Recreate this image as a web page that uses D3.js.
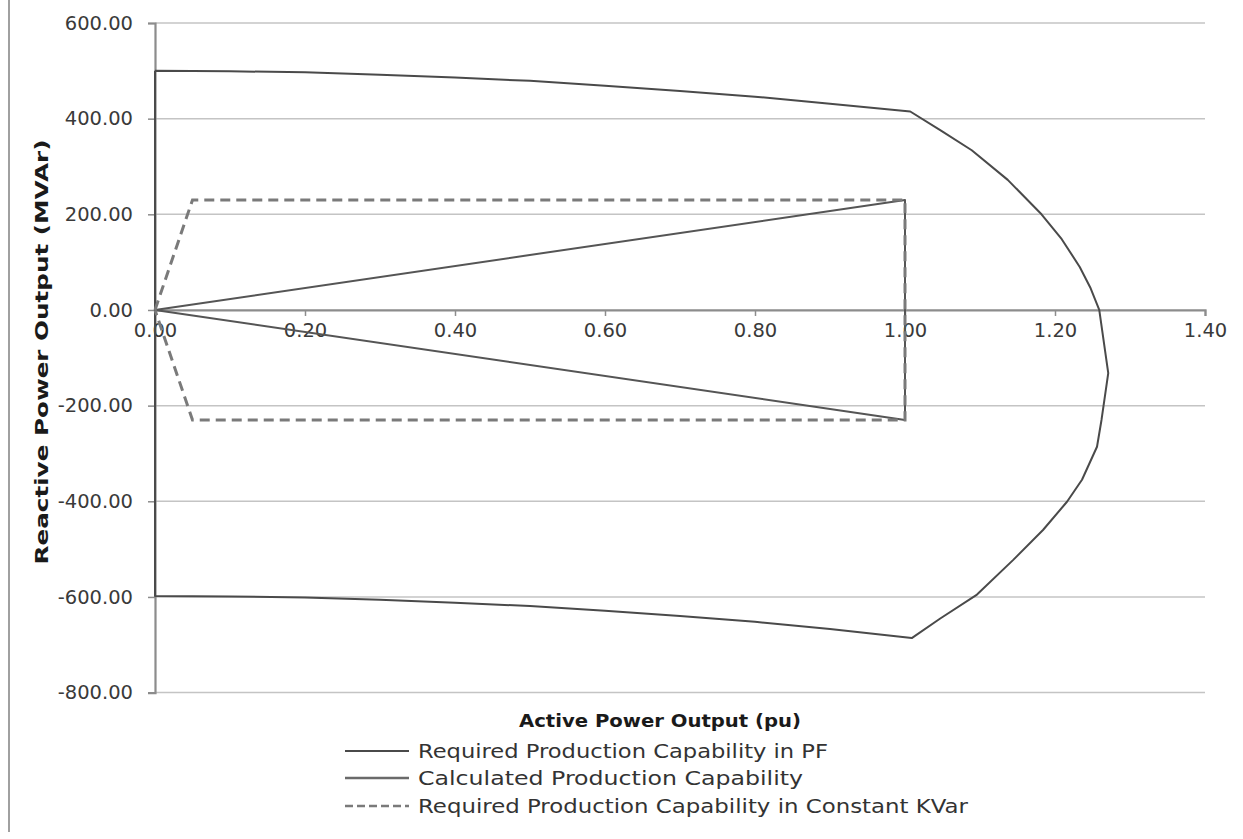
<!DOCTYPE html>
<html><head><meta charset="utf-8">
<script src="https://cdn.jsdelivr.net/npm/d3@7"></script>
<style>
html,body{margin:0;padding:0;background:#fff;}
svg{display:block;}
</style></head>
<body>
<svg id="chart" width="1243" height="839"></svg>
<script>
// ---- data ----
const xTicks = [0, 0.2, 0.4, 0.6, 0.8, 1.0, 1.2, 1.4];
const yTicks = [600, 400, 200, 0, -200, -400, -600, -800];

const seriesNames = [
  "Required Production Capability in PF",
  "Calculated Production Capability",
  "Required Production Capability in Constant KVar"
];

const pfP = [0, 1.0, 1.0, 0];
const pfQ = [0, 230, -230, 0];

const calcP = [0, 0.1, 0.2, 0.3, 0.4, 0.5, 0.6, 0.7, 0.8, 0.9, 1.007, 1.048, 1.089, 1.137, 1.182, 1.209, 1.233, 1.247, 1.259, 1.271, 1.262, 1.256, 1.236, 1.216, 1.184, 1.144, 1.096, 1.047, 1.009, 0.9, 0.8, 0.7, 0.6, 0.5, 0.4, 0.3, 0.2, 0.1, 0, 0];
const calcQ = [500, 499, 497, 492, 486, 479, 469, 458, 446, 431, 415, 375, 334, 272, 200, 148, 90, 47, 0, -132, -230, -286, -355, -401, -460, -523, -595, -645, -686, -667, -652, -640, -629, -619, -612, -606, -601, -599, -598, 500];

const kvarP = [0, 0.05, 1.0, 1.0, 0.05, 0];
const kvarQ = [0, 230, 230, -230, -230, 0];

// ---- layout ----
const svg = d3.select("#chart");
const x = d3.scaleLinear().domain([0, 1.4]).range([155, 1205]);
const y = d3.scaleLinear().domain([-800, 600]).range([692.6, 23]);
const fmt = d => d3.format(".2f")(d).replace("\u2212", "-");

// left border line
svg.append("line").attr("x1", 9).attr("x2", 9).attr("y1", 0).attr("y2", 832)
  .attr("stroke", "#a0a0a0").attr("stroke-width", 2);

// gridlines
svg.append("g").selectAll("line").data(yTicks.filter(d => d !== 0)).join("line")
  .attr("x1", x(0)).attr("x2", x(1.4))
  .attr("y1", d => y(d)).attr("y2", d => y(d))
  .attr("stroke", "#c4c4c4").attr("stroke-width", 1.5);

// y axis
const yAxis = d3.axisLeft(y).tickValues(yTicks).tickFormat(fmt).tickSize(7).tickPadding(15);
const gy = svg.append("g").attr("transform", `translate(${x(0)},0)`).call(yAxis);
gy.select(".domain").attr("stroke", "#8c8c8c").attr("stroke-width", 2.2);
gy.selectAll(".tick line").attr("stroke", "#8c8c8c").attr("stroke-width", 1.5);
gy.selectAll(".tick text").attr("font-family", "'DejaVu Sans', sans-serif").attr("font-size", 19.5).attr("fill", "#3a3a3a");

// x axis
const xAxis = d3.axisBottom(x).tickValues(xTicks).tickFormat(fmt).tickSize(6).tickPadding(7);
const gx = svg.append("g").attr("transform", `translate(0,${y(0)})`).call(xAxis);
gx.select(".domain").attr("stroke", "#8c8c8c").attr("stroke-width", 2.2);
gx.selectAll(".tick line").attr("stroke", "#8c8c8c").attr("stroke-width", 1.5);
gx.selectAll(".tick text").attr("font-family", "'DejaVu Sans', sans-serif").attr("font-size", 19.5).attr("fill", "#3a3a3a");

// series
const line = d3.line().x(d => x(d[0])).y(d => y(d[1]));
const zip = (a, b) => a.map((v, i) => [v, b[i]]);

svg.append("path").datum(zip(calcP, calcQ)).attr("d", line)
  .attr("fill", "none").attr("stroke", "#4a4a4a").attr("stroke-width", 2).attr("stroke-linejoin", "round");
svg.append("path").datum(zip(pfP, pfQ)).attr("d", line)
  .attr("fill", "none").attr("stroke", "#555555").attr("stroke-width", 2).attr("stroke-linejoin", "round");
svg.append("path").datum(zip(kvarP, kvarQ)).attr("d", line)
  .attr("fill", "none").attr("stroke", "#7a7a7a").attr("stroke-width", 3).attr("stroke-dasharray", "10,6");

// axis titles
svg.append("text").attr("transform", "translate(48,352) rotate(-90)")
  .attr("text-anchor", "middle").attr("font-family", "'DejaVu Sans', sans-serif")
  .attr("font-weight", "bold").attr("font-size", 18).attr("fill", "#1a1a1a")
  .attr("textLength", 425).attr("lengthAdjust", "spacingAndGlyphs")
  .text("Reactive Power Output (MVAr)");

svg.append("text").attr("x", 660).attr("y", 727)
  .attr("text-anchor", "middle").attr("font-family", "'DejaVu Sans', sans-serif")
  .attr("font-weight", "bold").attr("font-size", 18).attr("fill", "#1a1a1a")
  .attr("textLength", 282).attr("lengthAdjust", "spacingAndGlyphs")
  .text("Active Power Output (pu)");

// legend
const legY = [751, 778, 806];
const legW = [410, 385, 550];
const legStyle = [
  {c: "#4a4a4a", w: 2, dash: null},
  {c: "#6a6a6a", w: 2.5, dash: null},
  {c: "#7a7a7a", w: 2.5, dash: "8,4"}
];
const lg = svg.append("g");
seriesNames.forEach((name, i) => {
  lg.append("line").attr("x1", 345).attr("x2", 409).attr("y1", legY[i]).attr("y2", legY[i])
    .attr("stroke", legStyle[i].c).attr("stroke-width", legStyle[i].w)
    .attr("stroke-dasharray", legStyle[i].dash);
  lg.append("text").attr("x", 418).attr("y", legY[i] + 7)
    .attr("font-family", "'DejaVu Sans', sans-serif").attr("font-size", 19).attr("fill", "#333")
    .attr("textLength", legW[i]).attr("lengthAdjust", "spacingAndGlyphs")
    .text(name);
});
</script>
</body></html>
